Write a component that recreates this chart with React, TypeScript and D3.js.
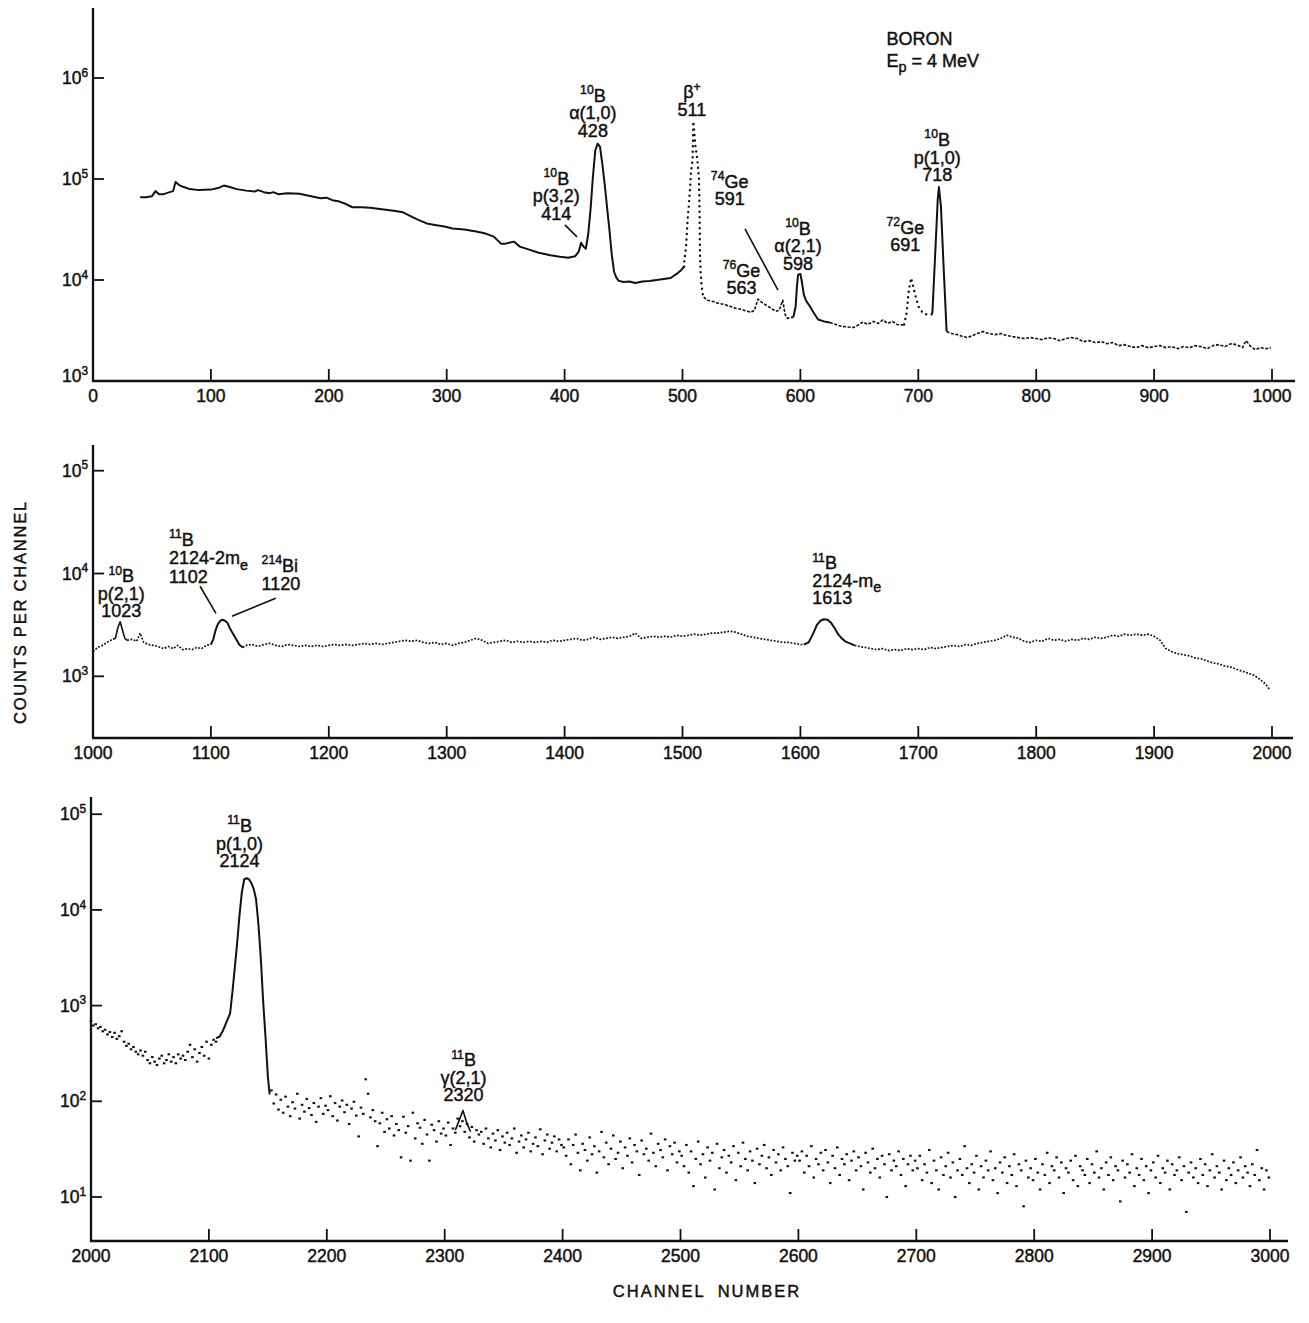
import React from 'react';
import * as d3 from 'd3';

type Pt = [number, number];

// ---------- axis ticks ----------
const p1XTicks = [0, 100, 200, 300, 400, 500, 600, 700, 800, 900, 1000];
const p2XTicks = [1000, 1100, 1200, 1300, 1400, 1500, 1600, 1700, 1800, 1900, 2000];
const p3XTicks = [2000, 2100, 2200, 2300, 2400, 2500, 2600, 2700, 2800, 2900, 3000];
const p1YExps = [3, 4, 5, 6];
const p2YExps = [3, 4, 5];
const p3YExps = [1, 2, 3, 4, 5];

// ---------- panel 1 : channels 0-1000 ----------
const p1Continuum: Pt[] = [
  [40, 66000], [45, 66000], [50, 67600], [53, 75900], [56, 70800], [60, 70800], [65, 74100], [68, 75900],
  [70, 93300], [73, 87100], [77, 83200], [82, 79400], [90, 77600], [100, 78500], [106, 81300], [111, 86100],
  [116, 83200], [122, 79400], [130, 76700], [137, 75000], [140, 77600], [145, 74100], [150, 72400], [153, 74100],
  [157, 70800], [165, 72400], [175, 71600], [185, 67600], [193, 64600], [198, 65300], [203, 61700], [208, 60300],
  [215, 56200], [220, 52500], [228, 52500], [235, 51900], [245, 50100], [255, 48400], [263, 46800], [268, 43700],
  [275, 39800], [283, 36300], [290, 35100], [298, 33900], [305, 32400], [315, 31600], [325, 30200], [333, 28800],
  [340, 26900], [346, 22900], [350, 22900], [357, 24000], [362, 21400], [370, 20000], [378, 18600], [388, 17600],
  [396, 17000], [403, 16600], [409, 17200], [412, 19100], [414, 23400], [416, 21400], [418, 20400], [420, 28200],
  [422, 50100], [424, 104700], [426, 190500], [428, 223900], [430, 208900], [432, 141300], [434, 89100],
  [436, 52500], [438, 31600], [440, 17800], [442, 12000], [444, 10500], [446, 9800], [450, 9550], [455, 9660],
  [460, 9330], [466, 9660], [472, 9770], [478, 10000], [484, 10230], [490, 10470], [495, 11480], [499, 12590],
  [502, 13800],
];
const p1Annihilation: Pt[] = [
  [501, 13490], [503, 21400], [504.4, 40700], [505.3, 53700], [506.4, 80000], [507.2, 117500], [508.6, 158500],
  [509.2, 371500], [511, 208900], [512.6, 154900], [514, 100000], [514.5, 45700], [514.8, 18200], [515.4, 11750],
  [516.3, 8510], [517.6, 6760],
];
const p1BgGe: Pt[] = [
  [518, 6760], [521, 6310], [525, 6170], [530, 5890], [535, 5750], [540, 5500], [545, 5250], [550, 5130],
  [555, 4900], [558, 4790], [561, 5010], [564, 6460], [567, 6030], [571, 5620], [575, 5250], [579, 4900],
  [582, 5010], [585, 6310], [587, 4570], [589, 4170], [592, 4270], [594, 4270],
];
const p1Peak598: Pt[] = [
  [594, 4270], [596, 5500], [597, 8510], [598, 11220], [600, 11480], [601, 10000], [603, 7080], [605, 6170],
  [608, 5500], [611, 4790], [615, 4070], [620, 3890], [625, 3800],
];
const p1BgMid: Pt[] = [
  [625, 3800], [630, 3630], [635, 3470], [640, 3430], [645, 3390], [650, 3630], [653, 3840], [657, 3630],
  [662, 3890], [666, 3720], [670, 4020], [674, 3720], [678, 3890], [682, 3630], [686, 3580], [688, 3630],
];
const p1Peak691: Pt[] = [
  [688, 3630], [690, 4680], [692, 7940], [694, 10470], [697, 7410], [700, 5500], [704, 4680], [707, 4570], [711, 4470],
];
const p1Peak718: Pt[] = [
  [711, 4470], [712, 4790], [714.5, 19950], [716.5, 63100], [717.5, 83200], [719.2, 53700], [721.2, 15850], [724, 3090],
];
const p1BgHigh: Pt[] = [
  [724, 3090], [728, 2950], [733, 2880], [738, 2750], [742, 2690], [746, 2820], [750, 2950], [755, 3090],
  [760, 2950], [765, 2880], [770, 2950], [775, 2820], [780, 2750], [785, 2690], [790, 2630], [795, 2690],
  [800, 2630], [805, 2570], [810, 2690], [815, 2630], [820, 2510], [825, 2630], [830, 2690], [835, 2630],
  [840, 2450], [845, 2510], [850, 2400], [855, 2450], [860, 2340], [865, 2400], [870, 2240], [875, 2290],
  [880, 2190], [885, 2140], [890, 2240], [895, 2140], [900, 2190], [905, 2240], [910, 2140], [915, 2190],
  [920, 2090], [925, 2190], [930, 2140], [935, 2240], [940, 2190], [945, 2090], [950, 2240], [955, 2290],
  [960, 2190], [965, 2340], [970, 2290], [975, 2140], [978, 2510], [982, 2190], [986, 2040], [990, 2140],
  [995, 2090], [999, 2140],
];

// ---------- panel 2 : channels 1000-2000 ----------
const p2BgA: Pt[] = [[1000, 1740], [1004, 1910], [1008, 2000], [1012, 2140], [1015, 2240], [1017, 2290]];
const p2Peak1023: Pt[] = [[1017, 2290], [1019, 2340], [1021, 2950], [1023, 3390], [1025, 2820], [1027, 2340], [1029, 2240]];
const p2BgB: Pt[] = [
  [1029, 2240], [1033, 2290], [1037, 2190], [1040, 2630], [1043, 2140], [1047, 2040], [1051, 2000], [1055, 1950],
  [1060, 1860], [1064, 1950], [1068, 1860], [1072, 2000], [1076, 1820], [1080, 1860], [1084, 1820], [1088, 1910],
  [1092, 1860], [1096, 2000], [1100, 2040],
];
const p2Peak1102: Pt[] = [
  [1100, 2040], [1102, 2290], [1104, 2820], [1106, 3240], [1108, 3470], [1110, 3550], [1112, 3470], [1114, 3310],
  [1116, 2950], [1118, 2690], [1120, 2450], [1122, 2240], [1124, 2040], [1127, 1910],
];
const p2BgC: Pt[] = [
  [1127, 1910], [1130, 2000], [1135, 2040], [1140, 1950], [1145, 2040], [1150, 2090], [1155, 2000], [1160, 1950],
  [1165, 2040], [1170, 2000], [1175, 1950], [1180, 2000], [1185, 1950], [1190, 2000], [1195, 1950], [1200, 2000],
  [1205, 2040], [1210, 2000], [1215, 2040], [1220, 2000], [1225, 2040], [1230, 2090], [1235, 2040], [1240, 2090],
  [1245, 2040], [1250, 2090], [1255, 2140], [1260, 2190], [1265, 2240], [1270, 2190], [1275, 2240], [1280, 2140],
  [1285, 2090], [1290, 2140], [1295, 2040], [1300, 2090], [1305, 2000], [1310, 2090], [1315, 2140], [1320, 2240],
  [1325, 2340], [1330, 2240], [1335, 2090], [1340, 2140], [1345, 2190], [1350, 2240], [1355, 2140], [1360, 2190],
  [1365, 2140], [1370, 2190], [1375, 2140], [1380, 2190], [1385, 2140], [1390, 2240], [1395, 2190], [1400, 2240],
  [1405, 2290], [1410, 2340], [1415, 2240], [1420, 2290], [1425, 2400], [1430, 2290], [1435, 2340], [1440, 2400],
  [1445, 2340], [1450, 2400], [1455, 2450], [1460, 2630], [1465, 2340], [1470, 2400], [1475, 2450], [1480, 2400],
  [1485, 2450], [1490, 2400], [1495, 2510], [1500, 2450], [1505, 2510], [1510, 2570], [1515, 2510], [1520, 2570],
  [1525, 2630], [1530, 2630], [1535, 2690], [1540, 2750], [1545, 2690], [1550, 2570], [1555, 2450], [1560, 2400],
  [1565, 2340], [1570, 2290], [1575, 2240], [1580, 2190], [1585, 2140], [1590, 2140], [1595, 2090], [1600, 2040],
  [1603, 2040],
];
const p2Peak1613: Pt[] = [
  [1603, 2040], [1607, 2140], [1611, 2630], [1614, 3160], [1617, 3470], [1620, 3590], [1623, 3550], [1626, 3310],
  [1629, 2950], [1632, 2570], [1635, 2340], [1638, 2190], [1642, 2090], [1646, 2000],
];
const p2BgD: Pt[] = [
  [1646, 2000], [1650, 1950], [1655, 1910], [1660, 1860], [1665, 1820], [1670, 1860], [1675, 1780], [1680, 1820],
  [1685, 1780], [1690, 1860], [1695, 1820], [1700, 1860], [1705, 1820], [1710, 1910], [1715, 1860], [1720, 1910],
  [1725, 1950], [1730, 2000], [1735, 1950], [1740, 2040], [1745, 2000], [1750, 2090], [1755, 2140], [1760, 2190],
  [1765, 2240], [1770, 2340], [1775, 2510], [1780, 2400], [1785, 2340], [1790, 2190], [1795, 2140], [1800, 2240],
  [1805, 2190], [1810, 2340], [1815, 2240], [1820, 2290], [1825, 2190], [1830, 2290], [1835, 2240], [1840, 2340],
  [1845, 2290], [1850, 2400], [1855, 2340], [1860, 2400], [1865, 2510], [1870, 2450], [1875, 2570], [1880, 2510],
  [1885, 2570], [1890, 2510], [1895, 2570], [1900, 2450], [1905, 2240], [1910, 1860], [1915, 1740], [1920, 1660],
  [1925, 1620], [1930, 1580], [1935, 1510], [1940, 1480], [1945, 1410], [1950, 1350], [1955, 1320], [1960, 1260],
  [1965, 1230], [1970, 1170], [1975, 1120], [1980, 1070], [1985, 1020], [1990, 930], [1995, 830], [1998, 740],
];

// ---------- panel 3 : channels 2000-3000 ----------
const p3LowStart = 2000;
const p3LowStep = 2;
const p3LowCounts = [
  690, 620, 640, 580, 600, 540, 560, 500, 530, 470,
  520, 450, 480, 540, 420, 380, 400, 350, 370, 330,
  310, 340, 300, 330, 270, 250, 290, 260, 240, 280,
  300, 250, 270, 310, 260, 290, 250, 310, 280, 300,
  270, 330, 390, 290, 350, 260, 320, 370, 300, 420,
  280, 390, 440, 420,
];
const p3Peak2124: Pt[] = [
  [2106, 457], [2109, 473], [2112, 550], [2115, 676], [2118, 830], [2120, 1410], [2122, 2510], [2124, 4570],
  [2126, 8910], [2128, 15500], [2130, 20900], [2132, 21400], [2134, 20900], [2136, 19100], [2138, 16600],
  [2140, 12900], [2142, 7080], [2144, 3160], [2146, 1120], [2148, 470], [2150, 182], [2151.5, 118],
];
const p3Peak2320: Pt[] = [[2309, 50], [2312, 62], [2315.5, 80], [2319, 58], [2322, 48]];
const p3TailStart = 2153;
const p3TailStep = 2;
const p3TailCounts = [
  130, 95, 118, 82, 104, 76, 112, 88, 70, 98, 84, 120, 66, 92, 78, 106, 85, 72, 96, 61, 88, 108, 74, 90,
  81, 113, 70, 96, 63, 88, 102, 77, 92, 58, 84, 99, 71, 43, 86, 74, 170, 120, 68, 81,
  62, 34, 59, 76, 48, 65, 52, 70, 44, 58, 50, 26, 69, 47, 55, 24, 76, 41, 59, 53, 36, 64, 45, 24, 57, 50, 38, 62, 46, 52,
  44, 60, 35, 52, 47, 66, 55, 62, 48, 58, 42, 54, 38, 50, 45,
  48, 36, 52, 41, 33, 46, 39, 50, 31, 43, 37, 47, 35, 41, 52, 29, 38, 44, 33, 40, 47, 30, 36, 42, 34, 51, 28, 39, 45, 32, 37, 43, 30, 40, 35,
  33, 27, 40, 22, 35, 45, 29, 19, 36, 31, 24, 42, 28, 34, 18, 30, 48, 26, 37, 22, 32, 44, 25, 29, 38,
  20, 33, 27, 41, 23, 35, 30, 17, 39, 28, 32, 24, 46, 29, 21, 36, 31, 26, 40, 19, 34, 28, 37, 23, 30,
  27, 21, 35, 18, 30, 13, 25, 38, 22, 28, 16, 33, 24, 29, 12, 36, 20, 26, 31, 18, 27, 23, 34, 15, 29,
  21, 37, 25, 19, 30, 24, 14, 32, 22, 27, 35, 20, 26, 17, 31, 23, 28, 19, 33, 25, 21, 11, 29, 24, 27,
  24, 30, 18, 27, 21, 34, 16, 25, 22, 29, 19, 31, 23, 14, 27, 20, 33, 17, 25, 22, 28, 15, 24, 30, 19,
  26, 21, 12, 29, 23, 18, 32, 20, 25, 16, 27, 22, 10, 28, 19, 24, 21, 30, 17, 25, 13, 22, 27, 19, 24,
  20, 27, 15, 22, 18, 31, 14, 24, 19, 12, 26, 17, 21, 29, 16, 23, 10, 19, 25, 17,
  34, 20, 14, 22, 18, 27, 12, 21, 16, 24, 19, 30, 15, 20, 11, 23, 18, 26, 14, 21,
  17, 28, 13, 22, 19, 8, 24, 16, 20, 15, 25, 18, 12, 22, 17, 29, 14, 21, 19, 26,
  16, 23, 11, 20, 18, 24, 15, 27, 13, 21, 19, 17, 25, 14, 22, 18, 30, 16, 20, 12,
  23, 17, 26, 15, 21, 19, 9, 24, 16, 22, 18, 28, 13, 20, 17, 25, 15, 21, 11, 19,
  23, 16, 27, 14, 20, 18, 24, 12, 22, 17, 19, 26, 15, 21, 7, 18, 23, 16, 20, 14,
  25, 17, 22, 13, 19, 28, 16, 21, 18, 12, 24, 15, 20, 17, 23, 14, 19, 26, 16, 21,
  18, 13, 22, 17, 31, 15, 20, 12, 19, 16,
];

// ---------- annotations (text, anchor channel, anchor count = baseline of last line) ----------
type Label = { lines: string[]; ch: number; count: number; anchor: 'middle' | 'start'; lh?: number };
const p1Labels: Label[] = [
  { lines: ['^{10}B', 'p(3,2)', '414'], ch: 393, count: 39300, anchor: 'middle' },
  { lines: ['^{10}B', 'α(1,0)', '428'], ch: 424, count: 260600, anchor: 'middle' },
  { lines: ['β^{+}', '511'], ch: 508, count: 420700, anchor: 'middle' },
  { lines: ['^{74}Ge', '591'], ch: 540, count: 54950, anchor: 'middle' },
  { lines: ['^{76}Ge', '563'], ch: 550, count: 7240, anchor: 'middle' },
  { lines: ['^{10}B', 'α(2,1)', '598'], ch: 598, count: 12600, anchor: 'middle' },
  { lines: ['^{72}Ge', '691'], ch: 689, count: 19360, anchor: 'middle' },
  { lines: ['^{10}B', 'p(1,0)', '718'], ch: 716, count: 95500, anchor: 'middle' },
  { lines: ['BORON', 'E_{p} = 4 MeV'], ch: 673, count: 1285000, anchor: 'start', lh: 22 },
];
const p1Leaders: [Pt, Pt][] = [
  [[400.3, 35100], [410.5, 26700]],
  [[553, 32000], [581, 7940]],
];
const p2Labels: Label[] = [
  { lines: ['^{10}B', 'p(2,1)', '1023'], ch: 1024, count: 3750, anchor: 'middle' },
  { lines: ['^{11}B', '2124-2m_{e}', '1102'], ch: 1064.5, count: 8130, anchor: 'start', lh: 18.5 },
  { lines: ['^{214}Bi', '1120'], ch: 1143, count: 6870, anchor: 'start', lh: 18.5 },
  { lines: ['^{11}B', '2124-m_{e}', '1613'], ch: 1610, count: 5010, anchor: 'start', lh: 17.5 },
];
const p2Leaders: [Pt, Pt][] = [
  [[1090.8, 7520], [1104.3, 4100]],
  [[1155, 5750], [1117.9, 3840]],
];
const p3Labels: Label[] = [
  { lines: ['^{11}B', 'p(1,0)', '2124'], ch: 2126, count: 28050, anchor: 'middle' },
  { lines: ['^{11}B', 'γ(2,1)', '2320'], ch: 2316, count: 100, anchor: 'middle' },
];

// ---------- rendering ----------
const FONT = "'Liberation Sans', Arial, 'DejaVu Sans', sans-serif";
const INK = '#111';
const TEXT_STROKE = 0.45;

type Style = 'solid' | 'dash' | 'dot' | 'band' | 'thin';
const STYLE: Record<Style, React.SVGProps<SVGPathElement>> = {
  solid: { strokeWidth: 2 },
  thin: { strokeWidth: 1.6 },
  dash: { strokeWidth: 1.6, strokeDasharray: '3 1.6' },
  band: { strokeWidth: 1.7, strokeDasharray: '1.8 1.6' },
  dot: { strokeWidth: 2.4, strokeDasharray: '0 5.5', strokeLinecap: 'round' },
};

type Part = { t: string; k: 'n' | 'sup' | 'sub' };
function parseRich(s: string): Part[] {
  const parts: Part[] = [];
  const re = /\^\{([^}]*)\}|_\{([^}]*)\}|([^^_]+)/g;
  let m: RegExpExecArray | null;
  while ((m = re.exec(s))) {
    if (m[1] !== undefined) parts.push({ t: m[1], k: 'sup' });
    else if (m[2] !== undefined) parts.push({ t: m[2], k: 'sub' });
    else parts.push({ t: m[3], k: 'n' });
  }
  return parts;
}

// One <text> element holding one or more lines (rich: ^{sup}, _{sub}).
function RichBlock({
  x, y, lines, size, anchor, lh,
}: { x: number; y: number; lines: string[]; size: number; anchor: string; lh: number }) {
  let cur = 0;
  const spans: React.ReactNode[] = [];
  lines.forEach((ln, j) => {
    const parts = parseRich(ln);
    parts.forEach((p, i) => {
      const target = p.k === 'sup' ? -size * 0.42 : p.k === 'sub' ? size * 0.3 : 0;
      let dy = target - cur;
      if (i === 0 && j > 0) dy += lh;
      cur = target;
      const fs = p.k === 'sup' ? size * 0.68 : p.k === 'sub' ? size * 0.8 : size;
      spans.push(
        <tspan key={`${j}-${i}`} x={i === 0 ? x : undefined} dy={dy} fontSize={fs}>
          {p.t}
        </tspan>
      );
    });
  });
  return (
    <text
      x={x}
      y={y}
      fontSize={size}
      textAnchor={anchor}
      fontFamily={FONT}
      fill={INK}
      stroke={INK}
      strokeWidth={TEXT_STROKE}
      style={{ whiteSpace: 'pre' }}
    >
      {spans}
    </text>
  );
}

type Series = { data: Pt[]; style: Style };
type PanelCfg = {
  left: number; right: number; axisEnd: number; top: number; bottom: number;
  xDomain: [number, number]; yDomain: [number, number];
  xTicks: number[]; yExps: number[];
  series: Series[]; scatter: Pt[]; labels: Label[]; leaders: [Pt, Pt][];
};

function Panel({ cfg }: { cfg: PanelCfg }) {
  const x = d3.scaleLinear().domain(cfg.xDomain).range([cfg.left, cfg.right]);
  const y = d3.scaleLog().domain(cfg.yDomain).range([cfg.bottom, cfg.top]);
  const line = d3.line<Pt>().x((d) => x(d[0])).y((d) => y(d[1]));
  return (
    <g>
      {cfg.series.map((s, i) => (
        <path key={i} d={line(s.data) || ''} fill="none" stroke={INK} strokeLinejoin="round" {...STYLE[s.style]} />
      ))}
      {cfg.scatter.map((d, i) => (
        <rect key={i} x={x(d[0]) - 1.3} y={y(d[1]) - 1} width={2.6} height={2.1} fill={INK} />
      ))}
      {cfg.leaders.map((l, i) => (
        <line key={i} x1={x(l[0][0])} y1={y(l[0][1])} x2={x(l[1][0])} y2={y(l[1][1])} stroke={INK} strokeWidth={1.6} />
      ))}
      {/* axes */}
      <line x1={cfg.left} y1={cfg.top} x2={cfg.left} y2={cfg.bottom + 1} stroke={INK} strokeWidth={2.3} />
      <line x1={cfg.left - 1} y1={cfg.bottom} x2={cfg.axisEnd} y2={cfg.bottom} stroke={INK} strokeWidth={2.3} />
      {cfg.xTicks.map((t, i) => (
        <g key={i}>
          {i > 0 && <line x1={x(t)} x2={x(t)} y1={cfg.bottom} y2={cfg.bottom - 12} stroke={INK} strokeWidth={1.8} />}
          <text
            x={x(t)}
            y={cfg.bottom + 21}
            fontSize={17.5}
            textAnchor="middle"
            fontFamily={FONT}
            fill={INK}
            stroke={INK}
            strokeWidth={TEXT_STROKE}
          >
            {t}
          </text>
        </g>
      ))}
      {cfg.yExps.map((e, i) => {
        const yy = y(Math.pow(10, e));
        const onBase = Math.abs(yy - cfg.bottom) < 2;
        return (
          <g key={i}>
            {!onBase && <line x1={cfg.left} x2={cfg.left + 11} y1={yy} y2={yy} stroke={INK} strokeWidth={1.8} />}
            <RichBlock x={cfg.left - 5} y={yy + (onBase ? 1 : 6)} lines={[`10^{${e}}`]} size={17.5} anchor="end" lh={0} />
          </g>
        );
      })}
      {cfg.labels.map((lb, i) => {
        const lh = lb.lh ?? 17.5;
        const n = lb.lines.length;
        return (
          <RichBlock
            key={i}
            x={x(lb.ch)}
            y={y(lb.count) - (n - 1) * lh}
            lines={lb.lines}
            size={18}
            anchor={lb.anchor}
            lh={lh}
          />
        );
      })}
    </g>
  );
}

const p3Scatter: Pt[] = [
  ...p3LowCounts.map((c, i) => [p3LowStart + i * p3LowStep, c] as Pt),
  ...p3TailCounts.map((c, i) => [p3TailStart + i * p3TailStep, c] as Pt),
];

const panels: PanelCfg[] = [
  {
    left: 93, right: 1272, axisEnd: 1295, top: 8, bottom: 381,
    xDomain: [0, 1000], yDomain: [1e3, Math.pow(10, 6.693)],
    xTicks: p1XTicks, yExps: p1YExps,
    series: [
      { data: p1Continuum, style: 'solid' },
      { data: p1Annihilation, style: 'dot' },
      { data: p1BgGe, style: 'dash' },
      { data: p1Peak598, style: 'solid' },
      { data: p1BgMid, style: 'dash' },
      { data: p1Peak691, style: 'dot' },
      { data: p1Peak718, style: 'solid' },
      { data: p1BgHigh, style: 'dash' },
    ],
    scatter: [], labels: p1Labels, leaders: p1Leaders,
  },
  {
    left: 93, right: 1272, axisEnd: 1293, top: 445, bottom: 738,
    xDomain: [1000, 2000], yDomain: [Math.pow(10, 2.4), Math.pow(10, 5.25)],
    xTicks: p2XTicks, yExps: p2YExps,
    series: [
      { data: p2BgA, style: 'band' },
      { data: p2Peak1023, style: 'thin' },
      { data: p2BgB, style: 'band' },
      { data: p2Peak1102, style: 'solid' },
      { data: p2BgC, style: 'band' },
      { data: p2Peak1613, style: 'solid' },
      { data: p2BgD, style: 'band' },
    ],
    scatter: [], labels: p2Labels, leaders: p2Leaders,
  },
  {
    left: 91, right: 1270, axisEnd: 1288, top: 797, bottom: 1241,
    xDomain: [2000, 3000], yDomain: [Math.pow(10, 0.54), Math.pow(10, 5.18)],
    xTicks: p3XTicks, yExps: p3YExps,
    series: [
      { data: p3Peak2124, style: 'solid' },
      { data: p3Peak2320, style: 'thin' },
    ],
    scatter: p3Scatter, labels: p3Labels, leaders: [],
  },
];

export default function App() {
  return (
    <div style={{ position: 'absolute', left: 0, top: 0 }}>
      <svg width={1309} height={1323} viewBox="0 0 1309 1323" style={{ display: 'block', background: '#fff' }}>
        <rect x={0} y={0} width={1309} height={1323} fill="#fff" />
        {panels.map((p, i) => (
          <Panel key={i} cfg={p} />
        ))}
        <text
          transform="translate(26,612) rotate(-90)"
          fontSize={16.5}
          textAnchor="middle"
          fontFamily={FONT}
          fill={INK}
          stroke={INK}
          strokeWidth={TEXT_STROKE}
          letterSpacing={1.8}
        >
          COUNTS PER CHANNEL
        </text>
        <text
          x={707}
          y={1297}
          fontSize={16.5}
          textAnchor="middle"
          fontFamily={FONT}
          fill={INK}
          stroke={INK}
          strokeWidth={TEXT_STROKE}
          letterSpacing={2}
          wordSpacing={6}
        >
          CHANNEL NUMBER
        </text>
      </svg>
    </div>
  );
}
